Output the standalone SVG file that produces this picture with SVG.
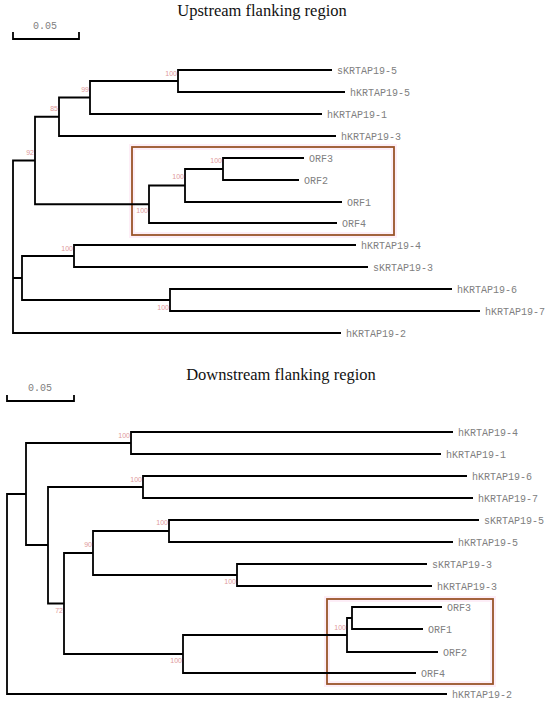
<svg xmlns="http://www.w3.org/2000/svg" width="550" height="703" viewBox="0 0 550 703">
<style>
.title{font-family:"Liberation Serif","DejaVu Serif",serif;font-size:16.5px;fill:#111;text-anchor:middle}
.tip{font-family:"Liberation Mono","DejaVu Sans Mono",monospace;font-size:10px;fill:#808080}
.bs{font-family:"Liberation Sans","DejaVu Sans",sans-serif;font-size:7px;fill:#e09a9a;text-anchor:end}
.br{fill:none;stroke:#000;stroke-width:1.8}
.box{fill:none;stroke:#9a5428;stroke-width:1.8}
.halo{fill:none;stroke:#fdeef7;stroke-width:6}
</style>
<rect width="550" height="703" fill="#fff"/>
<text class="title" x="262" y="16">Upstream flanking region</text>
<text class="title" x="281" y="380">Downstream flanking region</text>
<g id="scale-top">
<text class="tip" x="33" y="29">0.05</text>
<path class="br" d="M13 32 V39 H79 V32"/>
</g>
<g id="scale-bottom">
<text class="tip" x="28" y="391">0.05</text>
<path class="br" d="M7 395 V401 H74 V395"/>
</g>
<g id="boxes">
<rect class="halo" x="132" y="147" width="262" height="88"/>
<rect class="box" x="132" y="147" width="262" height="88"/>
<rect class="halo" x="327" y="599" width="166" height="85"/>
<rect class="box" x="327" y="599" width="166" height="85"/>
</g>
<g id="connectors">
<path class="br" d="M332 70 H178 V92 H345"/>
<path class="br" d="M178 81 H90 V114 H322"/>
<path class="br" d="M90 97.5 H59 V136 H336"/>
<path class="br" d="M59 116.75 H35 V204.25 H149"/>
<path class="br" d="M304 158 H223 V180 H299"/>
<path class="br" d="M223 169 H185 V202 H342"/>
<path class="br" d="M185 185.5 H149 V223 H337"/>
<path class="br" d="M356 245 H74 V267 H368"/>
<path class="br" d="M452 289 H170 V311 H480"/>
<path class="br" d="M74 256 H22 V300 H170"/>
<path class="br" d="M35 160.5 H13 V333 H341 M22 278 H13"/>
<path class="br" d="M453 432 H131 V454 H441"/>
<path class="br" d="M467 476 H143 V498 H473"/>
<path class="br" d="M479 520 H169 V542 H453"/>
<path class="br" d="M427 564 H237 V586 H432"/>
<path class="br" d="M169 531 H93 V575 H237"/>
<path class="br" d="M442 607 H352 V629 H423"/>
<path class="br" d="M352 618 H347 V652 H438"/>
<path class="br" d="M347 635 H183 V673 H416"/>
<path class="br" d="M93 553 H64 V654 H183"/>
<path class="br" d="M143 487 H48 V603.5 H64"/>
<path class="br" d="M131 443 H26 V545 H48"/>
<path class="br" d="M26 494 H7 V694 H447"/>
</g>
<g id="up-tips">
<g id="up-sKRTAP19-5"><text class="tip" x="337" y="73.5">sKRTAP19-5</text></g>
<g id="up-hKRTAP19-5"><text class="tip" x="350" y="95.5">hKRTAP19-5</text></g>
<g id="up-hKRTAP19-1"><text class="tip" x="327" y="117.5">hKRTAP19-1</text></g>
<g id="up-hKRTAP19-3"><text class="tip" x="341" y="139.5">hKRTAP19-3</text></g>
<g id="up-ORF3"><text class="tip" x="309" y="161.5">ORF3</text></g>
<g id="up-ORF2"><text class="tip" x="304" y="183.5">ORF2</text></g>
<g id="up-ORF1"><text class="tip" x="347" y="205.5">ORF1</text></g>
<g id="up-ORF4"><text class="tip" x="342" y="226.5">ORF4</text></g>
<g id="up-hKRTAP19-4"><text class="tip" x="361" y="248.5">hKRTAP19-4</text></g>
<g id="up-sKRTAP19-3"><text class="tip" x="373" y="270.5">sKRTAP19-3</text></g>
<g id="up-hKRTAP19-6"><text class="tip" x="457" y="292.5">hKRTAP19-6</text></g>
<g id="up-hKRTAP19-7"><text class="tip" x="485" y="314.5">hKRTAP19-7</text></g>
<g id="up-hKRTAP19-2"><text class="tip" x="346" y="336.5">hKRTAP19-2</text></g>
</g>
<g id="up-bootstrap">
<g id="up-nA"><text class="bs" x="177" y="75.5">100</text></g>
<g id="up-nB"><text class="bs" x="89" y="91.5">99</text></g>
<g id="up-nC"><text class="bs" x="58" y="110.5">85</text></g>
<g id="up-nD"><text class="bs" x="34" y="154.5">92</text></g>
<g id="up-nE"><text class="bs" x="222" y="162.5">100</text></g>
<g id="up-nF"><text class="bs" x="184" y="178.5">100</text></g>
<g id="up-nG"><text class="bs" x="148" y="212.5">100</text></g>
<g id="up-nH"><text class="bs" x="73" y="250.5">100</text></g>
<g id="up-nI"><text class="bs" x="169" y="309.5">100</text></g>
</g>
<g id="down-tips">
<g id="dn-hKRTAP19-4"><text class="tip" x="458" y="435.5">hKRTAP19-4</text></g>
<g id="dn-hKRTAP19-1"><text class="tip" x="446" y="457.5">hKRTAP19-1</text></g>
<g id="dn-hKRTAP19-6"><text class="tip" x="472" y="479.5">hKRTAP19-6</text></g>
<g id="dn-hKRTAP19-7"><text class="tip" x="478" y="501.5">hKRTAP19-7</text></g>
<g id="dn-sKRTAP19-5"><text class="tip" x="484" y="523.5">sKRTAP19-5</text></g>
<g id="dn-hKRTAP19-5"><text class="tip" x="458" y="545.5">hKRTAP19-5</text></g>
<g id="dn-sKRTAP19-3"><text class="tip" x="432" y="567.5">sKRTAP19-3</text></g>
<g id="dn-hKRTAP19-3"><text class="tip" x="437" y="589.5">hKRTAP19-3</text></g>
<g id="dn-ORF3"><text class="tip" x="447" y="610.5">ORF3</text></g>
<g id="dn-ORF1"><text class="tip" x="428" y="632.5">ORF1</text></g>
<g id="dn-ORF2"><text class="tip" x="443" y="655.5">ORF2</text></g>
<g id="dn-ORF4"><text class="tip" x="421" y="676.5">ORF4</text></g>
<g id="dn-hKRTAP19-2"><text class="tip" x="452" y="697.5">hKRTAP19-2</text></g>
</g>
<g id="down-bootstrap">
<g id="dn-n1"><text class="bs" x="130" y="437.5">100</text></g>
<g id="dn-n2"><text class="bs" x="142" y="481.5">100</text></g>
<g id="dn-n3"><text class="bs" x="168" y="524.5">100</text></g>
<g id="dn-n5"><text class="bs" x="92" y="546.5">90</text></g>
<g id="dn-n4"><text class="bs" x="236" y="583.5">100</text></g>
<g id="dn-n9"><text class="bs" x="63" y="612.5">72</text></g>
<g id="dn-n8"><text class="bs" x="182" y="662.5">100</text></g>
<g id="dn-n7"><text class="bs" x="346" y="629.5">100</text></g>
</g>
</svg>
